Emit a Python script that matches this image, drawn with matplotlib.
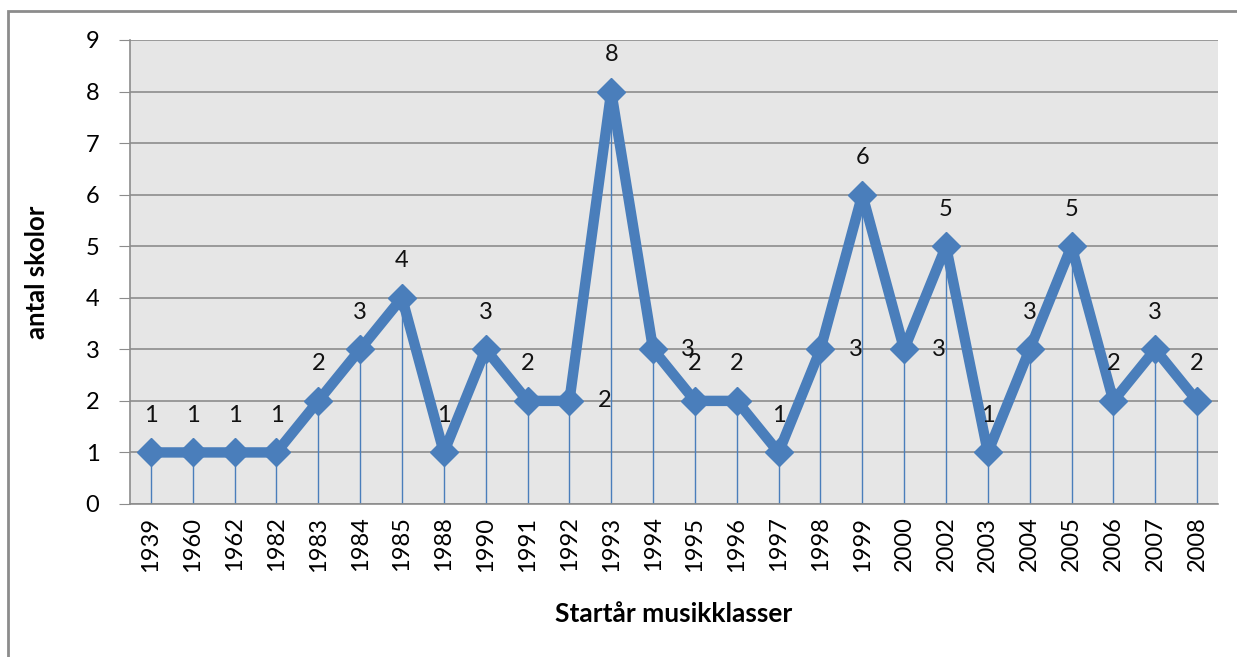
import matplotlib.pyplot as plt
import numpy as np
from matplotlib.patches import Rectangle

years = ['1939', '1960', '1962', '1982', '1983', '1984', '1985', '1988', '1990', '1991',
         '1992', '1993', '1994', '1995', '1996', '1997', '1998', '1999', '2000', '2002',
         '2003', '2004', '2005', '2006', '2007', '2008']
schools = [1, 1, 1, 1, 2, 3, 4, 1, 3, 2, 2, 8, 3, 2, 2, 1, 3, 6, 3, 5, 1, 3, 5, 2, 3, 2]
# labels placed to the right of the point instead of above
right_labels = ['1992', '1994', '1998', '2000']

plt.rcParams['font.family'] = ['Lato', 'DejaVu Sans']
blue = '#4a7ebb'

fig = plt.figure(figsize=(12.37, 6.57), dpi=100)
ax = fig.add_axes([130 / 1237, 1 - 504 / 657, 1088 / 1237, 464 / 657])

x = np.arange(len(years))
ax.vlines(x, 0, schools, color=blue, lw=1.0, zorder=2)
ax.plot(x, schools, color=blue, lw=7.5, marker='D', ms=14, zorder=3)

for xi, yr, v in zip(x, years, schools):
    if yr in right_labels:
        ax.annotate(str(v), (xi, v), xytext=(35, 0), textcoords='offset pixels',
                    ha='center', va='center', fontsize=17, color='#111111')
    else:
        ax.annotate(str(v), (xi, v), xytext=(0, 37), textcoords='offset pixels',
                    ha='center', va='center', fontsize=17, color='#111111')

ax.set_facecolor('#e6e6e6')
ax.set_xlim(-0.5, len(years) - 0.5)
ax.set_ylim(0, 9)
ax.set_yticks(range(10))
ax.yaxis.grid(True, color='#8c8c8c', lw=1.2)
ax.set_axisbelow(True)
ax.set_xticks(x)
ax.set_xticklabels(years, rotation=90, fontsize=17)
ax.tick_params(axis='x', length=0, pad=9)
ax.tick_params(axis='y', length=8, color='#8c8c8c', labelsize=17, pad=14)
for s in ['top', 'right']:
    ax.spines[s].set_visible(False)
for s in ['left', 'bottom']:
    ax.spines[s].set_color('#8c8c8c')
    ax.spines[s].set_linewidth(1.2)

ax.set_ylabel('antal skolor', fontsize=18.5, fontweight='bold', labelpad=26)
ax.set_xlabel('Startår musikklasser', fontsize=19, fontweight='bold', labelpad=22)

fig.patches.append(Rectangle((8 / 1237, -0.1), 1.2, 1 - 11 / 657 + 0.1,
                             transform=fig.transFigure, fill=False,
                             edgecolor='#8c8c8c', lw=2))

fig.savefig('out.png', dpi=100)
